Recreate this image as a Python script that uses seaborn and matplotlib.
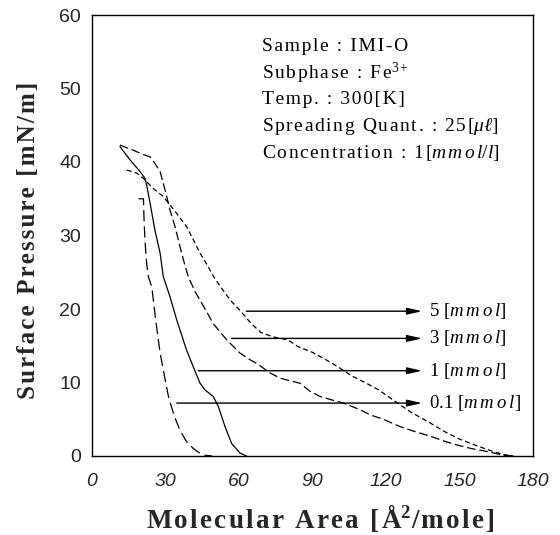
import numpy as np
import pandas as pd
import matplotlib
matplotlib.use("Agg")
import matplotlib.pyplot as plt
import seaborn as sns

# ---- data ----
left_x = [19, 21, 21.2, 21.6, 22.3, 23, 24.4, 26, 27.8, 29.5, 31.2, 33.5, 35.9, 38.5, 41.4, 44, 46.1, 49]
left_y = [35, 35, 32.6, 29.4, 26.2, 24.4, 23.0, 18.5, 14.0, 11.0, 8.1, 5.5, 3.5, 2.0, 1.0, 0.4, 0.1, 0]

solid_x = [11.4, 15.5, 19.6, 21.6, 22.3, 23.7, 25.7, 27.8, 29.1, 31.8, 34.6, 38.6, 41.5, 44.1, 46.1,
           49.5, 51.6, 54.3, 57.0, 60.4, 63.1]
solid_y = [42.1, 40.3, 38.7, 37.8, 36.9, 34.4, 30.7, 27.6, 24.4, 21.7, 18.5, 14.4, 12.0, 9.9, 9.0,
           8.1, 6.7, 4.0, 1.7, 0.4, 0]

mid_x = [11.4, 16.9, 21, 23.7, 25.7, 27.8, 29.1, 30.5, 31.8, 33.9, 35.9, 37.3, 39.3, 42, 44.1, 47, 49.5,
         55, 60.4, 64.5, 67.2, 72.7, 76.7, 80, 84.9, 89, 93.1, 97.1, 102.6, 109.4, 113.5, 118.9, 125.7,
         132, 138, 144, 149, 155, 160, 164, 168, 172]
mid_y = [42.3, 41.6, 41.0, 40.7, 39.8, 38.7, 37.1, 35.3, 33.5, 31.2, 28.5, 26.7, 24.4, 22.4, 21.2, 19.5, 18.0,
         15.8, 14.0, 13.1, 12.6, 11.3, 10.6, 10.3, 9.9, 8.8, 8.1, 7.7, 7.2, 6.3, 5.6, 5.0, 4.0,
         3.3, 2.7, 2.0, 1.5, 1.0, 0.7, 0.4, 0.1, 0]

right_x = [14.2, 18.2, 20.9, 25.0, 29.1, 34.6, 38.6, 41.4, 44.1, 47, 50, 54, 57, 61, 65, 69, 74, 80, 84, 90,
           96, 101, 106, 112, 117, 123, 130, 138, 144, 150, 157, 163, 168, 172]
right_y = [38.9, 38.5, 37.8, 36.4, 35.3, 33.0, 31.2, 29.4, 27.6, 26.0, 24.2, 22.3, 21.0, 19.6, 18.0, 16.8,
           16.2, 15.8, 14.9, 14.1, 13.0, 12.0, 10.9, 9.9, 9.0, 7.6, 6.0, 4.5, 3.3, 2.3, 1.4, 0.7, 0.2, 0]

arrow_labels = ["5", "3", "1", "0.1"]
arrow_y = [19.7, 16.0, 11.6, 7.2]
arrow_start = [63, 57, 43.4, 34.6]
arrow_end = 134.8

info_lines = ["Sample : IMI-O", "Subphase : Fe$^{3+}$", "Temp. : 300[K]",
              "Spreading Quant. : 25[$\\mu\\ell$]", "Concentration : 1[$m\\,m\\,o\\,l/l$]"]

x_ticks = [0, 30, 60, 90, 120, 150, 180]
y_ticks = [0, 10, 20, 30, 40, 50, 60]

# ---- style ----
sns.set_theme(style="white")
plt.rcParams["mathtext.fontset"] = "custom"
plt.rcParams["mathtext.rm"] = "Liberation Serif"
plt.rcParams["mathtext.it"] = "Liberation Serif:italic"
plt.rcParams["mathtext.bf"] = "Liberation Serif:bold"
plt.rcParams["font.family"] = ["Liberation Serif", "DejaVu Serif"]

HS = "\u200a"


def sp(s, gap=HS):
    # space out only the non-math parts of a string
    parts = s.split("$")
    out = []
    for i, p in enumerate(parts):
        out.append(gap.join(p) if i % 2 == 0 else p)
    return "$".join(out)


fig = plt.figure(figsize=(5.6, 5.35), dpi=100)
ax = fig.add_axes([92 / 560, 79 / 535, 441 / 560, 441 / 535])

curves = [
    (left_x, left_y, (0, (9, 4))),
    (solid_x, solid_y, "-"),
    (mid_x, mid_y, (0, (7, 3))),
    (right_x, right_y, (0, (4, 2.5))),
]
for cx, cy, ls in curves:
    df = pd.DataFrame({"x": cx, "y": cy})
    sns.lineplot(data=df, x="x", y="y", ax=ax, color="black", linewidth=0.9,
                 linestyle=ls, sort=False, estimator=None)

for lab, yy, xs in zip(arrow_labels, arrow_y, arrow_start):
    ax.annotate("", xy=(arrow_end, yy), xytext=(xs, yy),
                arrowprops=dict(arrowstyle="-|>,head_length=0.9,head_width=0.2",
                                color="black", lw=1.0, mutation_scale=10,
                                shrinkA=0, shrinkB=0))
    ax.text(arrow_end + 2.8, yy, lab + " [$m\\:m\\:o\\:l$]", fontsize=13.5,
            va="center", ha="left", color="black")

for i, line in enumerate(info_lines):
    ax.text(69.5, 55.7 - i * 3.62, sp(line, HS), fontsize=14, va="center", ha="left", color="black")

ax.set_xlim(0, 180)
ax.set_ylim(0, 60)
ax.set_xticks(x_ticks)
ax.set_yticks(y_ticks)
ax.set_xticks(np.arange(0, 181, 10), minor=True)
ax.set_yticks(np.arange(0, 61, 5), minor=True)
ax.set_xticklabels([str(v) for v in x_ticks], fontfamily="Liberation Sans", fontstyle="italic", fontsize=14)
ax.set_yticklabels([str(v) for v in y_ticks], fontfamily="Liberation Sans", fontsize=14)
ax.tick_params(axis="both", which="major", direction="in", length=8, width=0.9, color="black")
ax.tick_params(axis="both", which="minor", direction="in", length=4, width=0.9, color="black")
ax.tick_params(axis="x", which="major", pad=12)
ax.tick_params(axis="y", which="major", pad=8)
for s in ax.spines.values():
    s.set_color("black")
    s.set_linewidth(1.0)

ax.set_xlabel(sp("Molecular Area [Å", HS) + "$^{\\mathbf{2}}$" + sp("/mole]", HS),
              fontsize=19.5, fontweight="bold")
ax.set_ylabel(sp("Surface Pressure [mN/m]", HS), fontsize=18, fontweight="bold")
ax.xaxis.set_label_coords(0.517, -0.105)
ax.yaxis.set_label_coords(-0.118, 0.49)

fig.savefig("out.png", dpi=100)
